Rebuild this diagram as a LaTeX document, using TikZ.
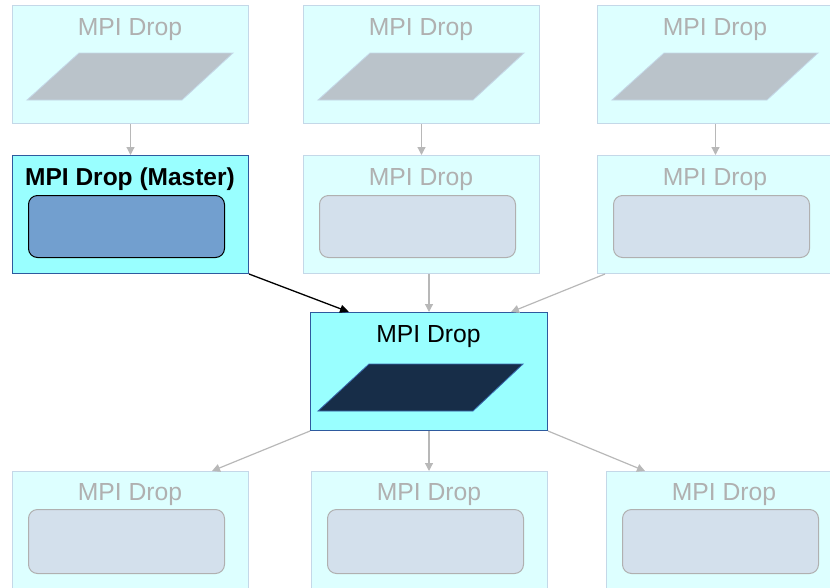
\documentclass[tikz,border=0pt]{standalone}
\usepackage{fontspec}
\setmainfont{Liberation Sans}
\usetikzlibrary{arrows.meta}
\definecolor{fadefill}{HTML}{DDFFFF}
\definecolor{fadeedge}{HTML}{C4D8E8}
\definecolor{fadetext}{HTML}{B0B0B0}
\definecolor{fadepara}{HTML}{BAC3CA}
\definecolor{faderect}{HTML}{D3E0EC}
\definecolor{fadearrow}{HTML}{B8B8B8}
\definecolor{actfill}{HTML}{99FFFF}
\definecolor{actedge}{HTML}{2E5A9E}
\definecolor{masterrect}{HTML}{729FCF}
\definecolor{darkpara}{HTML}{172D48}
\definecolor{paraedge}{HTML}{3A6AB0}
\tikzset{
  box/.style={draw=fadeedge, fill=fadefill, line width=1pt, minimum width=236pt, minimum height=118pt, anchor=north west, inner sep=0pt},
  actbox/.style={box, draw=actedge, fill=actfill},
  title/.style={font=\fontsize{24.7}{29}\selectfont, text=fadetext, anchor=base},
  acttitle/.style={title, text=black},
  innerrect/.style={draw=fadetext, fill=faderect, line width=1pt, rounded corners=9pt, minimum width=196pt, minimum height=62pt, anchor=north west, inner sep=0pt},
  fadepar/.style={fill=fadepara, draw=fadeedge, line width=0.8pt},
  conn/.style={draw=fadearrow, line width=1.2pt, -{Triangle[length=8pt,width=8pt]}},
}
\begin{document}
\begin{tikzpicture}[x=1pt,y=-1pt]
\useasboundingbox (0,0) rectangle (830,587);
% top row
\node[box] (t1) at (12,5) {};
\node[box] (t2) at (303,5) {};
\node[box] (t3) at (597,5) {};
\foreach \n/\x in {t1/12,t2/303,t3/597}{
  \node[title] (\n lbl) at (\x+118,35) {MPI Drop};
  \path[fadepar] (\x+67,53) -- (\x+221,53) -- (\x+170,100) -- (\x+15,100) -- cycle;
}
% second row
\node[actbox] (m) at (12,155) {};
\node[acttitle, font=\fontsize{24.5}{29}\selectfont\bfseries] (mlbl) at (130,185) {MPI Drop (Master)};
\node[innerrect, draw=black, fill=masterrect] (mrect) at (28,195) {};
\node[box] (s2) at (303,155) {};
\node[title] (s2lbl) at (421,185) {MPI Drop};
\node[innerrect] (s2rect) at (319,195) {};
\node[box] (s3) at (597,155) {};
\node[title] (s3lbl) at (715,185) {MPI Drop};
\node[innerrect] (s3rect) at (613,195) {};
% center
\node[actbox, minimum width=237pt] (c) at (310,312) {};
\node[acttitle] (clbl) at (428.5,342) {MPI Drop};
\path[fill=darkpara, draw=paraedge, line width=0.8pt] (369,364) -- (523,364) -- (473,411) -- (318,411) -- cycle;
% bottom row
\node[box] (b1) at (12,471) {};
\node[title] (b1lbl) at (130,500) {MPI Drop};
\node[innerrect, minimum height=64pt] (b1rect) at (28,509) {};
\node[box] (b2) at (311,471) {};
\node[title] (b2lbl) at (429,500) {MPI Drop};
\node[innerrect, minimum height=64pt] (b2rect) at (327,509) {};
\node[box] (b3) at (606,471) {};
\node[title] (b3lbl) at (724,500) {MPI Drop};
\node[innerrect, minimum height=64pt] (b3rect) at (622,509) {};
% connectors
\draw[conn] (t1.south) -- (m.north);
\draw[conn] (t2.south) -- (s2.north);
\draw[conn] (t3.south) -- (s3.north);
\draw[conn] (s2.south -| c.north) -- (c.north);
\coordinate (s3out) at ([xshift=8pt]s3.south west);
\coordinate (cin3) at ([xshift=-37pt]c.north east);
\draw[conn] (s3out) -- (cin3);
\coordinate (cin1) at ([xshift=39pt]c.north west);
\draw[line width=1.3pt, draw=black, -{Triangle[length=9pt,width=8pt]}] (m.south east) -- (cin1);
\coordinate (b1in) at ([xshift=-37pt]b1.north east);
\coordinate (b3in) at ([xshift=39pt]b3.north west);
\draw[conn] (c.south west) -- (b1in);
\draw[conn] (c.south) -- (c.south |- b2.north);
\draw[conn] (c.south east) -- (b3in);
\end{tikzpicture}
\end{document}
